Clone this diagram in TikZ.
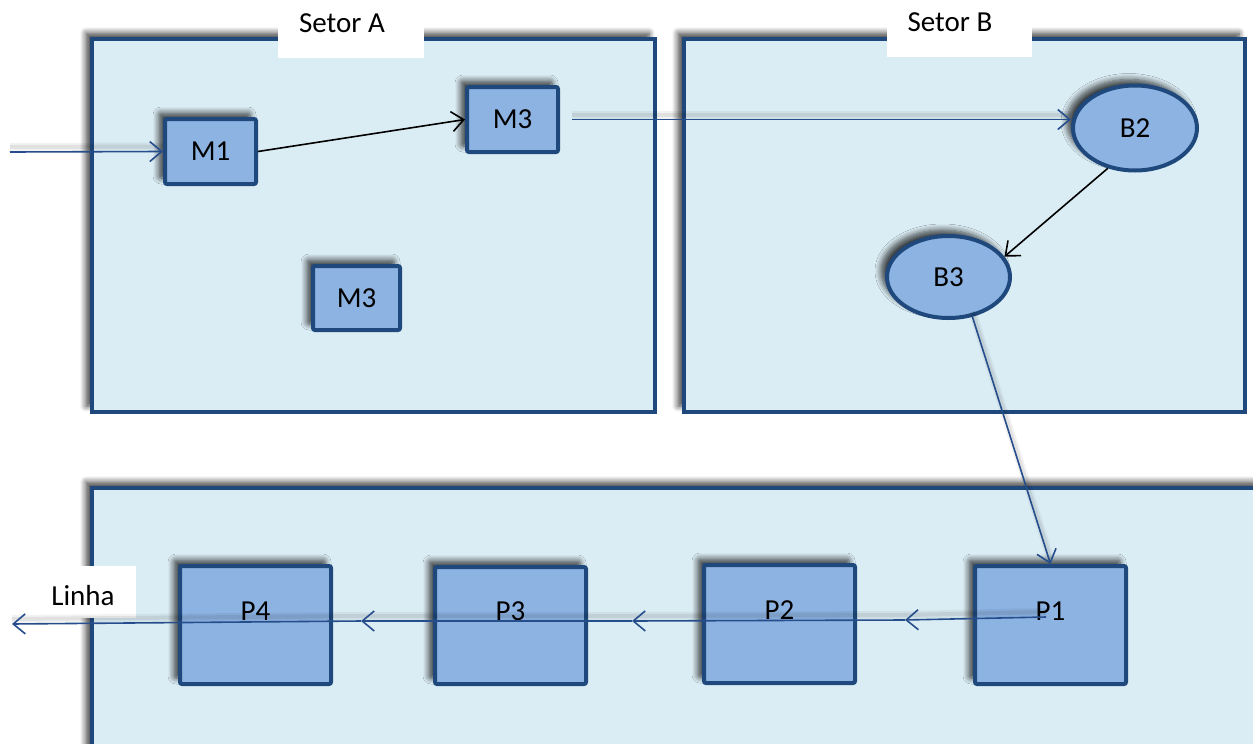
\documentclass[tikz,border=0pt]{standalone}
\usepackage{fontspec}
\setmainfont{Carlito}
\usetikzlibrary{shapes.geometric,shadows.blur,arrows.meta}
\definecolor{frame}{RGB}{31,73,125}
\definecolor{areafill}{RGB}{219,237,244}
\definecolor{unitfill}{RGB}{141,179,226}
\definecolor{flow}{RGB}{38,78,140}
\begin{document}
\begin{tikzpicture}[x=0.5pt,y=-0.5pt,
  font=\fontsize{14.5}{17}\selectfont,
  softshadow/.style={blur shadow={shadow xshift=-3pt,shadow yshift=3pt,
    shadow blur radius=3pt,shadow blur steps=8,shadow opacity=75}},
  area/.style={rectangle,draw=frame,line width=2pt,fill=areafill,inner sep=0pt,softshadow},
  unit/.style={rectangle,draw=frame,line width=2pt,fill=unitfill,inner sep=0pt,
    rounded corners=1pt,softshadow},
  station/.style={ellipse,draw=frame,line width=2pt,fill=unitfill,inner sep=0pt,softshadow},
  tag/.style={rectangle,fill=white,inner sep=0pt},
  tip/.style={-{Straight Barb[length=6pt,width=10pt]}},
  lineshade/.style={
    preaction={draw=black,-,line width=4pt,opacity=0.05,transform canvas={yshift=2.5pt}},
    preaction={draw=black,-,line width=2pt,opacity=0.07,transform canvas={yshift=2.5pt}}},
  flowline/.style={draw=flow,line width=0.8pt,tip,lineshade},
  plainline/.style={draw=black,line width=0.8pt,tip}]

\useasboundingbox (0,0) rectangle (1253,744);
\clip (0,0) rectangle (1253,744);

% sector areas
\node[area,minimum width=604pt,minimum height=156pt] (linearea) at (696,644) {};
\node[area,minimum width=281.5pt,minimum height=186.5pt] (sectorA) at (373.5,225.5) {};
\node[area,minimum width=280.5pt,minimum height=186.5pt] (sectorB) at (964.5,225.5) {};

% sector titles
\node[tag,minimum width=73pt,minimum height=29pt,
  label={[xshift=-4.5pt,yshift=3pt]center:Setor A}] (tagA) at (351,29) {};
\node[tag,minimum width=72.5pt,minimum height=28.5pt,
  label={[xshift=-4.75pt,yshift=3.25pt]center:Setor B}] (tagB) at (959.5,28.5) {};
\node[tag,minimum width=53pt,minimum height=26pt,
  label={[yshift=-2pt]center:Linha}] (tagL) at (83,592) {};

% machines of sector A
\node[unit,minimum width=45.5pt,minimum height=32.5pt] (m1) at (210.5,151.5) {M1};
\node[unit,minimum width=45.5pt,minimum height=32.5pt] (m3a) at (512.5,119.5) {M3};
\node[unit,minimum width=43.5pt,minimum height=32pt] (m3b) at (356.5,298) {M3};

% stations of sector B
\node[station,minimum width=62pt,minimum height=42.5pt] (b2) at (1135,128) {B2};
\node[station,minimum width=61.5pt,minimum height=41pt] (b3) at (948.5,277) {B3};

% production line
\node[unit,minimum width=75.5pt,minimum height=59pt,
  label={[yshift=7pt]center:P4}] (p4) at (255.5,625) {};
\node[unit,minimum width=75.5pt,minimum height=58.5pt,
  label={[yshift=7pt]center:P3}] (p3) at (510.5,625.5) {};
\node[unit,minimum width=75.5pt,minimum height=59pt,
  label={[yshift=7pt]center:P2}] (p2) at (779.5,624) {};
\node[unit,minimum width=75.5pt,minimum height=59pt,
  label={[yshift=7pt]center:P1}] (p1) at (1050.5,625) {};

% loose ends of the flow
\coordinate (entry) at (10,152);
\coordinate (s1) at (1046,617);
\coordinate (t1) at (905,620);
\coordinate (t2) at (632,621);
\coordinate (t3) at (361,621);
\coordinate (exit) at (12,624);

% flow connectors
\draw[flowline] (entry) -- (m1.west);
\draw[plainline] (m1.east) -- (m3a.west);
\draw[flowline,shorten <=6pt] (m3a.east) -- (b2.west |- m3a.east);
\draw[plainline] (b2.236) -- (b3.20);
\draw[flowline] (b3.-59) -- (p1.north);
\draw[flowline] (s1) -- (t1);
\draw[flowline] (t1) -- (t2);
\draw[flowline] (t2) -- (t3);
\draw[flowline] (t3) -- (exit);
\end{tikzpicture}
\end{document}
